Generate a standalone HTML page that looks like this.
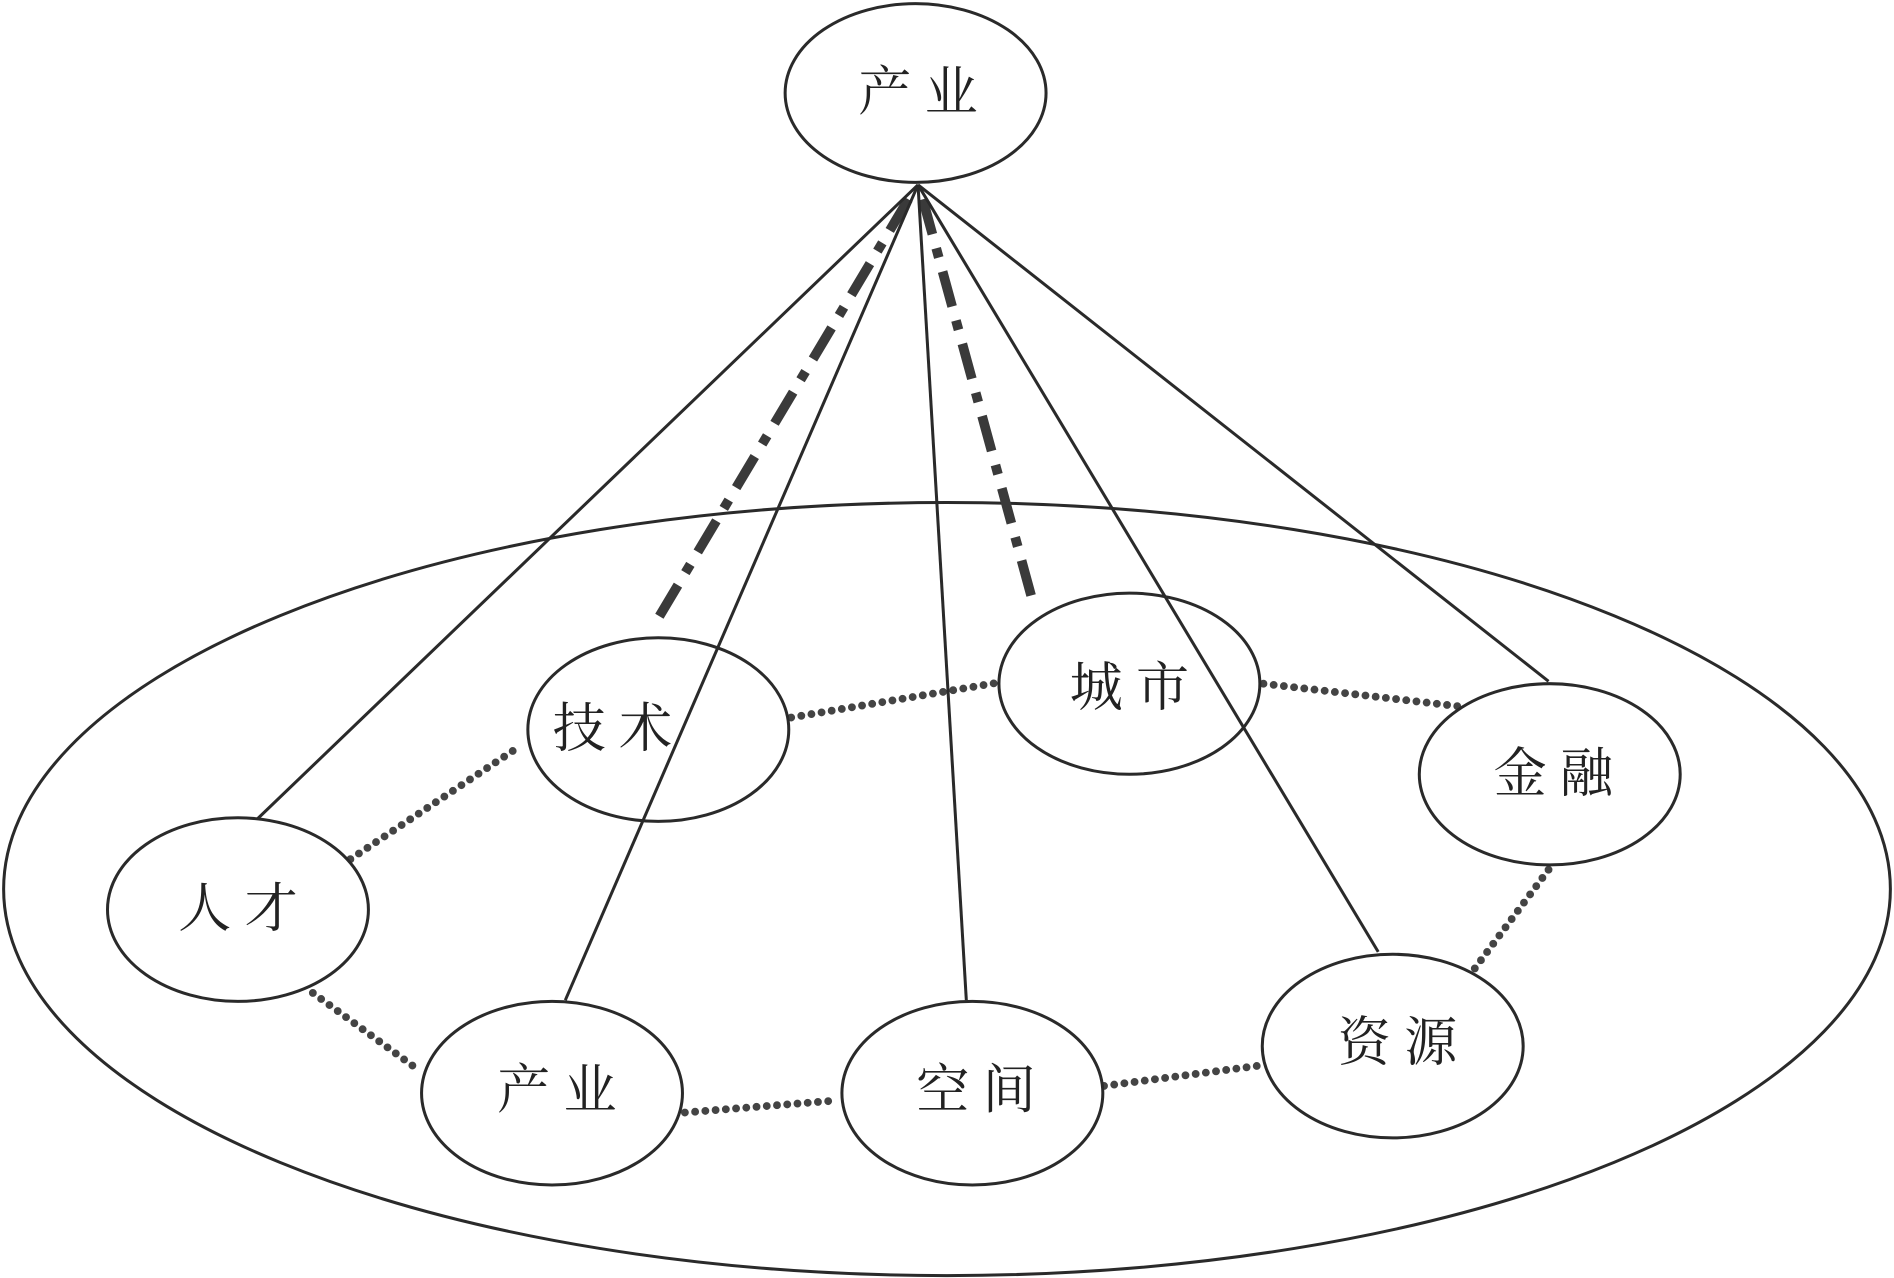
<!DOCTYPE html>
<html><head><meta charset="utf-8"><style>
html,body{margin:0;padding:0;background:#fff;}
svg{display:block;}
text{font-family:"Liberation Serif","Noto Serif CJK SC","Noto Sans CJK SC",serif;font-size:44px;fill:#222;text-anchor:middle;dominant-baseline:central;}
</style></head><body>
<svg width="1894" height="1278" viewBox="0 0 1568 1058" preserveAspectRatio="none" xmlns="http://www.w3.org/2000/svg">
<rect width="1568" height="1058" fill="#fff"/>
<ellipse cx="784" cy="736" rx="781" ry="320" fill="none" stroke="#2a2a2a" stroke-width="2.5"/>
<g stroke="#3a3a3a" stroke-width="8" stroke-dasharray="30 12 8 12" fill="none">
<line x1="752" y1="165" x2="540" y2="520"/>
<line x1="764" y1="165" x2="855" y2="498"/>
</g>
<g stroke="#444" stroke-width="6.5" stroke-linecap="round" stroke-dasharray="0 8.5" fill="none">
<line x1="283" y1="716" x2="430" y2="618"/>
<line x1="655" y1="594" x2="827" y2="565"/>
<line x1="1046" y1="566" x2="1210" y2="585"/>
<line x1="1282" y1="720" x2="1220" y2="803"/>
<line x1="259" y1="822" x2="344" y2="884"/>
<line x1="567" y1="921" x2="693" y2="911"/>
<line x1="914" y1="899" x2="1044" y2="882"/>
</g>
<g fill="#fff" stroke="#2a2a2a" stroke-width="2.5">
<ellipse cx="758" cy="77" rx="108" ry="74"/>
<ellipse cx="545" cy="604" rx="108" ry="76"/>
<ellipse cx="935" cy="566" rx="108" ry="75"/>
<ellipse cx="1283" cy="641" rx="108" ry="75"/>
<ellipse cx="197" cy="753" rx="108" ry="76"/>
<ellipse cx="457" cy="905" rx="108" ry="76"/>
<ellipse cx="805" cy="905" rx="108" ry="76"/>
<ellipse cx="1153" cy="866" rx="108" ry="76"/>
</g>
<g fill="none" stroke="#2a2a2a" stroke-width="2.5">
<line x1="760" y1="153" x2="213" y2="678"/>
<line x1="760" y1="153" x2="468" y2="828"/>
<line x1="760" y1="153" x2="800" y2="828"/>
<line x1="760" y1="153" x2="1141" y2="788"/>
<line x1="760" y1="153" x2="1282" y2="564"/>
</g>
<text x="760" y="77">产 业</text>
<text x="507" y="604">技 术</text>
<text x="935" y="570">城 市</text>
<text x="1286" y="641">金 融</text>
<text x="197" y="753">人 才</text>
<text x="461" y="903">产 业</text>
<text x="808" y="903">空 间</text>
<text x="1157" y="864">资 源</text>
</svg>
</body></html>
